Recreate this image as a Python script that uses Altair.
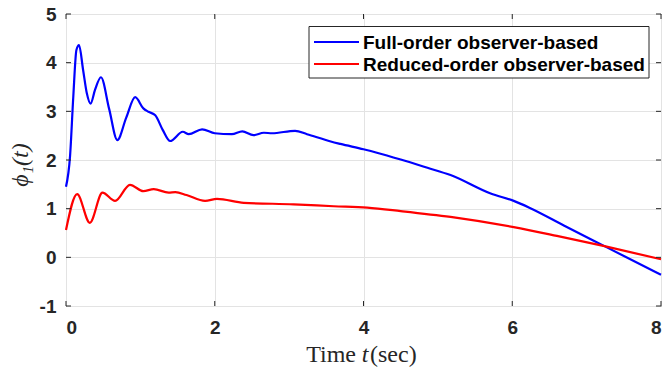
import altair as alt
import pandas as pd

# ---- data ----
t_full = [0.0, 0.054, 0.098, 0.14, 0.175, 0.23, 0.28, 0.33, 0.39, 0.47, 0.58, 0.69,
          0.81, 0.93, 1.04, 1.11, 1.20, 1.30, 1.40, 1.57, 1.65, 1.83, 2.0, 2.23, 2.37, 2.52,
          2.66, 2.77, 3.08, 3.24, 3.56, 3.69, 4.0, 4.18, 4.5, 4.86, 5.17, 5.71, 6.02,
          6.23, 6.7, 7.24, 8.0]
y_full = [1.45, 2.07, 3.30, 4.26, 4.36, 3.85, 3.37, 3.16, 3.44, 3.70, 3.05, 2.41,
          2.87, 3.29, 3.06, 2.99, 2.92, 2.62, 2.39, 2.58, 2.53, 2.63, 2.55, 2.53, 2.59, 2.51,
          2.56, 2.55, 2.60, 2.53, 2.38, 2.33, 2.22, 2.15, 2.01, 1.84, 1.69, 1.31, 1.16,
          1.02, 0.65, 0.23, -0.36]

t_red = [0.0, 0.15, 0.32, 0.49, 0.66, 0.86, 1.04, 1.18, 1.38, 1.47, 1.62, 1.87, 2.03,
         2.39, 3.06, 3.6, 4.05, 4.5, 5.17, 6.02, 6.6, 7.24, 8.0]
y_red = [0.56, 1.30, 0.71, 1.33, 1.16, 1.49, 1.36, 1.40, 1.33, 1.34, 1.28, 1.16, 1.20,
         1.12, 1.09, 1.05, 1.02, 0.95, 0.83, 0.62, 0.44, 0.23, -0.04]

series_names = ["Full-order observer-based", "Reduced-order observer-based"]
series_colors = ["#0000ff", "#ff0000"]
x_ticks = [0, 2, 4, 6, 8]
y_ticks = [-1, 0, 1, 2, 3, 4, 5]

# ---- layout ----
W, H = 595, 292
FRAME = "#262626"
GRID = "#e3e3e3"

df = pd.concat([
    pd.DataFrame({"t": t_full, "v": y_full, "s": series_names[0], "o": range(len(t_full))}),
    pd.DataFrame({"t": t_red, "v": y_red, "s": series_names[1], "o": range(len(t_red))}),
])

xs = alt.Scale(domain=[0, 8], nice=False, zero=False)
ys = alt.Scale(domain=[-1, 5], nice=False, zero=False)

x_axis = alt.Axis(values=x_ticks, grid=True, ticks=False, domain=False, title=None,
                  labelFont="Liberation Sans", labelFontWeight="bold", labelFontSize=19,
                  labelColor=FRAME, labelPadding=12, gridColor=GRID, gridWidth=1,
                  labelExpr="'' + datum.value")
y_axis = alt.Axis(values=y_ticks, grid=True, ticks=False, domain=False, title=None,
                  labelFont="Liberation Sans", labelFontWeight="bold", labelFontSize=19,
                  labelColor=FRAME, labelPadding=10, gridColor=GRID, gridWidth=1,
                  labelExpr="'' + datum.value")

lines = alt.Chart(df).mark_line(strokeWidth=2.2, interpolate="monotone").encode(
    x=alt.X("t:Q", scale=xs, axis=x_axis),
    y=alt.Y("v:Q", scale=ys, axis=y_axis),
    color=alt.Color("s:N", scale=alt.Scale(domain=series_names, range=series_colors), legend=None),
    order="o:Q",
)

xt = pd.DataFrame({"x": x_ticks})
yt = pd.DataFrame({"y": y_ticks})
tick_style = dict(color=FRAME, strokeWidth=1)
xticks_b = alt.Chart(xt).mark_rule(**tick_style).encode(
    x=alt.X("x:Q", scale=xs), y=alt.value(H), y2=alt.value(H - 5))
xticks_t = alt.Chart(xt).mark_rule(**tick_style).encode(
    x=alt.X("x:Q", scale=xs), y=alt.value(0), y2=alt.value(5))
yticks_l = alt.Chart(yt).mark_rule(**tick_style).encode(
    y=alt.Y("y:Q", scale=ys), x=alt.value(0), x2=alt.value(5))
yticks_r = alt.Chart(yt).mark_rule(**tick_style).encode(
    y=alt.Y("y:Q", scale=ys), x=alt.value(W), x2=alt.value(W - 5))

one = pd.DataFrame({"a": [0]})

# legend (drawn by hand, MATLAB style)
leg_box = alt.Chart(one).mark_rect(fill="white", stroke=FRAME, strokeWidth=1).encode(
    x=alt.value(243), x2=alt.value(583), y=alt.value(12.5), y2=alt.value(64))
leg_layers = [leg_box]
for i, (name, col) in enumerate(zip(series_names, series_colors)):
    yy = 28 + 22 * i
    leg_layers.append(alt.Chart(one).mark_rule(color=col, strokeWidth=2.2).encode(
        x=alt.value(248), x2=alt.value(293), y=alt.value(yy)))
    leg_layers.append(alt.Chart(pd.DataFrame({"txt": [name]})).mark_text(
        align="left", baseline="middle", font="Liberation Sans", fontWeight="bold",
        fontSize=19, color="black").encode(
        text="txt:N", x=alt.value(297), y=alt.value(yy + 1)))

# axis titles
serif = "Liberation Serif, DejaVu Serif"
xt1 = alt.Chart(pd.DataFrame({"txt": ["Time"]})).mark_text(
    align="right", baseline="alphabetic", font=serif, fontSize=24, color=FRAME).encode(
    text="txt:N", x=alt.value(290), y=alt.value(348))
xt2 = alt.Chart(pd.DataFrame({"txt": ["t"]})).mark_text(
    align="center", baseline="alphabetic", font=serif, fontSize=24, fontStyle="italic",
    color=FRAME).encode(text="txt:N", x=alt.value(299), y=alt.value(348))
xt3 = alt.Chart(pd.DataFrame({"txt": ["(sec)"]})).mark_text(
    align="left", baseline="alphabetic", font=serif, fontSize=24, color=FRAME).encode(
    text="txt:N", x=alt.value(304), y=alt.value(348))
ytitle = alt.Chart(pd.DataFrame({"txt": ["ϕ₁(t)"]})).mark_text(
    align="center", baseline="middle", font=serif, fontSize=24, fontStyle="italic",
    angle=270, color=FRAME).encode(text="txt:N", x=alt.value(-45), y=alt.value(151))

chart = alt.layer(
    lines, xticks_b, xticks_t, yticks_l, yticks_r, *leg_layers, xt1, xt2, xt3, ytitle
).properties(
    width=W, height=H,
    autosize=alt.AutoSizeParams(type="none"),
    padding={"left": 66, "top": 14, "right": 7, "bottom": 69},
    background="white",
).configure_view(stroke=FRAME, strokeWidth=1)

chart.save("out.html", embed_options={"renderer": "svg", "actions": False})
